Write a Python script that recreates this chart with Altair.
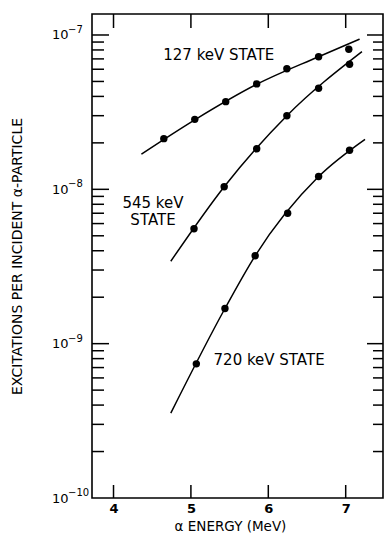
import altair as alt
import pandas as pd

# Measured excitation yields (energy in MeV, excitations per incident alpha)
energy_127 = [4.65, 5.05, 5.45, 5.85, 6.24, 6.65, 7.04]
yield_127 = [2.13e-8, 2.84e-8, 3.70e-8, 4.82e-8, 6.05e-8, 7.23e-8, 8.08e-8]
energy_545 = [5.04, 5.43, 5.85, 6.24, 6.65, 7.05]
yield_545 = [5.55e-9, 1.04e-8, 1.83e-8, 3.00e-8, 4.52e-8, 6.46e-8]
energy_720 = [5.07, 5.44, 5.83, 6.25, 6.65, 7.05]
yield_720 = [7.4e-10, 1.69e-9, 3.71e-9, 7.0e-9, 1.21e-8, 1.79e-8]

# Smooth curves drawn through each state's yields
curve_e_127 = [4.36, 5.05, 5.85, 6.65, 7.18]
curve_v_127 = [1.69e-8, 2.82e-8, 4.79e-8, 7.23e-8, 9.40e-8]
curve_e_545 = [4.74, 5.43, 6.24, 7.21]
curve_v_545 = [3.42e-9, 1.04e-8, 3.00e-8, 7.80e-8]
curve_e_720 = [4.74, 5.44, 5.83, 6.65, 7.25]
curve_v_720 = [3.55e-10, 1.69e-9, 3.71e-9, 1.21e-8, 2.11e-8]

# Curve labels
label_text = ["127 keV STATE", "545 keV\nSTATE", "720 keV STATE"]
label_e = [5.36, 4.51, 6.01]
label_v = [7.42e-8, 8.11e-9, 7.8e-10]

# Axis ticks: decade labels are written as 10 with a raised exponent
x_ticks = [4, 5, 6, 7]
y_decades = [1e-10, 1e-9, 1e-8, 1e-7]
y_exponents = ["−10", "−9", "−8", "−7"]
minor_mantissas = [2, 3, 4, 5, 6, 7, 8, 9]
minor_decades = [-10, -9, -8]

W, H = 291, 484
FONT = "DejaVu Sans"
EXP_GAP = 24  # distance from frame to where the exponent starts

points = pd.concat([
    pd.DataFrame({"e": energy_127, "v": yield_127, "state": "127"}),
    pd.DataFrame({"e": energy_545, "v": yield_545, "state": "545"}),
    pd.DataFrame({"e": energy_720, "v": yield_720, "state": "720"}),
])
curves = pd.concat([
    pd.DataFrame({"e": curve_e_127, "v": curve_v_127, "state": "127"}),
    pd.DataFrame({"e": curve_e_545, "v": curve_v_545, "state": "545"}),
    pd.DataFrame({"e": curve_e_720, "v": curve_v_720, "state": "720"}),
])
labels = pd.DataFrame({"e": label_e, "v": label_v, "t": label_text})
exps = pd.DataFrame({"v": y_decades, "t": y_exponents})
major_y = pd.DataFrame({"v": y_decades[1:]})
minor_y = pd.DataFrame({"v": [m * 10.0 ** d for d in minor_decades for m in minor_mantissas]})
xt = pd.DataFrame({"e": x_ticks})

xs = alt.Scale(domain=[3.722, 7.482], nice=False, zero=False)
ys = alt.Scale(type="log", domain=[1e-10, 10 ** -6.864], nice=False)

X = alt.X("e:Q", scale=xs, axis=alt.Axis(
    values=x_ticks, format="d", ticks=False, domain=False, grid=False,
    labelFontSize=13, labelFont=FONT, labelFontWeight="bold", labelPadding=4,
    labelColor="black",
    title="α ENERGY (MeV)", titleFont=FONT, titleFontSize=13.5, titleFontWeight="normal",
    titleColor="black", titleX=138, titleY=28.5, titleBaseline="middle", titleAlign="center",
))
Y = alt.Y("v:Q", scale=ys, axis=alt.Axis(
    values=y_decades, labelExpr="'10'", ticks=False, domain=False, grid=False,
    labelFontSize=13, labelFont=FONT, labelPadding=EXP_GAP, labelColor="black",
    title="EXCITATIONS PER INCIDENT α-PARTICLE", titleFont=FONT, titleFontSize=14,
    titleFontWeight="normal", titleColor="black", titleAngle=270,
    titleX=-75, titleY=H / 2, titleBaseline="middle", titleAlign="center",
))

rule = dict(color="black", strokeWidth=1.5)
left_major = alt.Chart(major_y).mark_rule(**rule).encode(
    y=Y, x=alt.value(0), x2=alt.value(17))
left_minor = alt.Chart(minor_y).mark_rule(**rule).encode(
    y=Y, x=alt.value(0), x2=alt.value(12))
right_major = alt.Chart(major_y).mark_rule(**rule).encode(
    y=Y, x=alt.value(W), x2=alt.value(W - 16))
right_minor = alt.Chart(minor_y).mark_rule(**rule).encode(
    y=Y, x=alt.value(W), x2=alt.value(W - 10))
bottom_ticks = alt.Chart(xt).mark_rule(**rule).encode(
    x=X, y=alt.value(H), y2=alt.value(H - 13))
top_ticks = alt.Chart(xt).mark_rule(**rule).encode(
    x=X, y=alt.value(0), y2=alt.value(14))

exponents = alt.Chart(exps).mark_text(
    font=FONT, fontSize=10, color="black", align="left", baseline="middle", dy=-5,
).encode(y=Y, x=alt.value(-EXP_GAP), text="t:N")

lines = alt.Chart(curves).mark_line(color="black", strokeWidth=1.5, interpolate="monotone").encode(
    x=X, y=Y, detail="state:N", order="e:Q")
dots = alt.Chart(points).mark_point(filled=True, color="black", opacity=1, size=55, shape="circle").encode(
    x=X, y=Y)
texts = alt.Chart(labels).mark_text(
    font=FONT, fontSize=15, color="black", align="center", baseline="middle",
    lineBreak="\n", lineHeight=17,
).encode(x=X, y=Y, text="t:N")

chart = alt.layer(
    left_major, left_minor, right_major, right_minor, bottom_ticks, top_ticks,
    exponents, lines, dots, texts,
).properties(
    width=W, height=H, autosize="none",
    padding={"left": 92, "top": 14, "right": 1, "bottom": 37},
    background="white",
).configure_view(stroke="black", strokeWidth=1.6)

chart.save("out.html", embed_options={"renderer": "svg", "actions": False})
